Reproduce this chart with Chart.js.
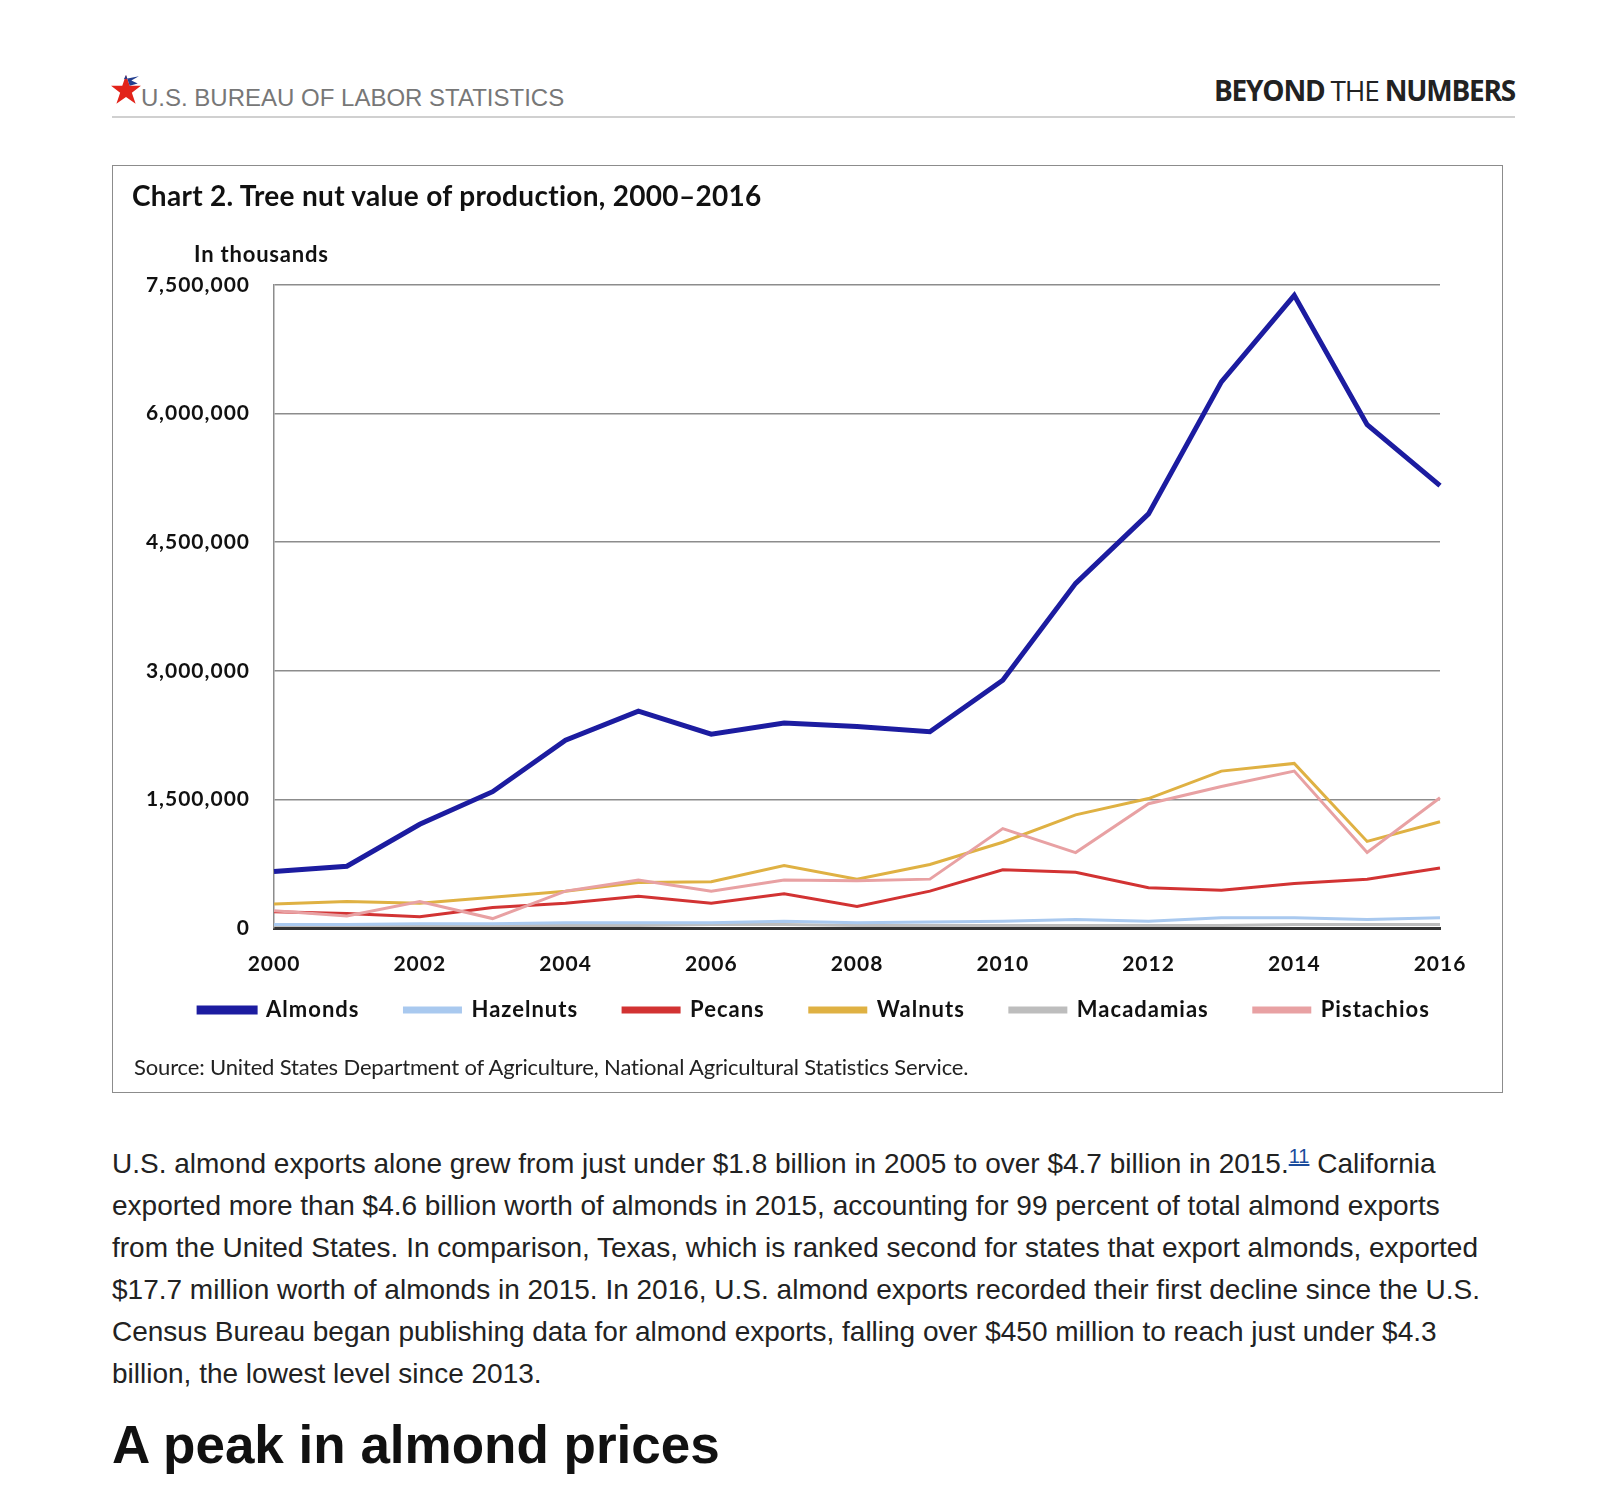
<!DOCTYPE html>
<html>
<head>
<meta charset="utf-8">
<script src="https://cdn.jsdelivr.net/npm/chart.js@4"></script>
<style>
  body { margin: 0; background: #fff; width: 1598px; height: 1493px; position: relative; overflow: hidden; }
  .bls { position: absolute; left: 141px; top: 84px; font: 24px "Liberation Sans", Arial, sans-serif; color: #777; }
  .star { position: absolute; left: 110px; top: 74px; }
  .btn { position: absolute; right: 83px; top: 71px; font: 700 28px "Open Sans", sans-serif; color: #222; letter-spacing: -1.2px; }
  .btn span { font-weight: 400; }
  .rule { position: absolute; left: 112px; top: 116px; width: 1403px; height: 2px; background: #d0d0d0; }
  .box { position: absolute; left: 112px; top: 165px; width: 1389px; height: 926px; border: 1.5px solid #8c8c8c; }
  canvas { position: absolute; left: 113px; top: 166px; }
  .title { position: absolute; left: 132px; top: 178px; font: 700 28px Lato, sans-serif; color: #111; letter-spacing: 0.3px; }
  .unit { position: absolute; left: 194px; top: 240px; font: 700 22px Lato, sans-serif; color: #111; letter-spacing: 0.8px; }
  .src { position: absolute; left: 134px; top: 1053px; font: 22px Lato, sans-serif; color: #222; letter-spacing: -0.15px; }
  .body { position: absolute; left: 112px; top: 1143px; width: 1380px; font: 28px "Liberation Sans", Arial, sans-serif; line-height: 42px; color: #222; }
  .body sup { font-size: 20px; color: #1a4b9c; text-decoration: underline; line-height: 0; }
  h2 { position: absolute; left: 112px; top: 1414px; margin: 0; font: 700 53px "Liberation Sans", Arial, sans-serif; color: #111; }
</style>
</head>
<body>
<svg class="star" width="32" height="32" viewBox="0 0 30 30">
  <polygon points="15,1 18.5,11 29,11 20.5,17.5 24,28 15,21.5 6,28 9.5,17.5 1,11 11.5,11" fill="#e2231a"/>
  <polygon points="15,1 18.5,11 26,9 20,6 27,2 13,5" fill="#233f8f"/>
</svg>
<div class="bls">U.S. BUREAU OF LABOR STATISTICS</div>
<div class="btn">BEYOND <span>THE</span> NUMBERS</div>
<div class="rule"></div>
<div class="box"></div>
<canvas id="chart" width="1389" height="926"></canvas>
<div class="title">Chart 2. Tree nut value of production, 2000–2016</div>
<div class="unit">In thousands</div>
<div class="src">Source: United States Department of Agriculture, National Agricultural Statistics Service.</div>
<div class="body">U.S. almond exports alone grew from just under $1.8 billion in 2005 to over $4.7 billion in 2015.<sup>11</sup> California exported more than $4.6 billion worth of almonds in 2015, accounting for 99 percent of total almond exports from the United States. In comparison, Texas, which is ranked second for states that export almonds, exported $17.7 million worth of almonds in 2015. In 2016, U.S. almond exports recorded their first decline since the U.S. Census Bureau began publishing data for almond exports, falling over $450 million to reach just under $4.3 billion, the lowest level since 2013.</div>
<h2>A peak in almond prices</h2>

<script>
// values in thousands of dollars
const years = ['2000', '2001', '2002', '2003', '2004', '2005', '2006', '2007', '2008',
               '2009', '2010', '2011', '2012', '2013', '2014', '2015', '2016'];
const almonds = [660000, 720000, 1210000, 1590000, 2190000, 2530000, 2260000, 2390000, 2350000,
                 2290000, 2890000, 4020000, 4830000, 6370000, 7380000, 5870000, 5160000];
const hazelnuts = [40000, 40000, 50000, 50000, 60000, 60000, 60000, 80000, 60000,
                   70000, 80000, 100000, 80000, 120000, 120000, 100000, 120000];
const pecans = [190000, 170000, 130000, 240000, 290000, 370000, 290000, 400000, 250000,
                430000, 680000, 650000, 470000, 440000, 520000, 570000, 700000];
const walnuts = [280000, 310000, 290000, 360000, 430000, 530000, 540000, 730000, 570000,
                 740000, 1000000, 1320000, 1510000, 1830000, 1920000, 1010000, 1240000];
const macadamias = [30000, 30000, 30000, 30000, 30000, 30000, 40000, 40000, 30000,
                    30000, 30000, 30000, 30000, 30000, 40000, 40000, 40000];
const pistachios = [200000, 140000, 310000, 110000, 430000, 560000, 430000, 560000, 550000,
                    570000, 1160000, 880000, 1450000, 1650000, 1830000, 880000, 1520000];
const yTicks = [0, 1500000, 3000000, 4500000, 6000000, 7500000];

function series(label, data, color, width, order) {
    return {
        label: label,
        data: data,
        borderColor: color,
        backgroundColor: color,
        borderWidth: width,
        pointRadius: 0,
        tension: 0,
        order: order
    };
}

// slightly spaced-out lettering like the original, and legend nudged into place
const chartTweaks = {
    id: 'chartTweaks',
    beforeUpdate(chart) { chart.ctx.letterSpacing = '1px'; },
    beforeDraw(chart) { chart.ctx.letterSpacing = '1px'; },
    afterLayout(chart) {
        const lg = chart.legend;
        lg.top -= 30; lg.bottom -= 30;
        lg.left += 38; lg.right += 38;
    }
};

const ctx = document.getElementById('chart').getContext('2d');

new Chart(ctx, {
    type: 'line',
    data: {
        labels: years,
        datasets: [
            series('Almonds', almonds, '#1c1ca0', 5, 0),
            series('Hazelnuts', hazelnuts, '#a9c9ef', 3, 5),
            series('Pecans', pecans, '#d23333', 3, 2),
            series('Walnuts', walnuts, '#dfb143', 3, 3),
            series('Macadamias', macadamias, '#bdbdbd', 3, 6),
            series('Pistachios', pistachios, '#e8a1a3', 3, 1)
        ]
    },
    plugins: [chartTweaks],
    options: {
        responsive: false,
        animation: false,
        layout: {
            padding: { top: 119, right: 62, left: 0, bottom: 31 }
        },
        plugins: {
            legend: {
                position: 'bottom',
                labels: {
                    boxWidth: 56,
                    boxHeight: 4,
                    padding: 45,
                    color: '#111',
                    font: { family: 'Lato', size: 22, weight: 'bold' },
                    sort: (a, b) => a.datasetIndex - b.datasetIndex
                }
            },
            tooltip: { enabled: false }
        },
        scales: {
            x: {
                offset: false,
                grid: { display: false, drawTicks: false },
                border: { color: '#333', width: 3 },
                afterFit: function (scale) { scale.height = 56; },
                ticks: {
                    autoSkip: false,
                    maxRotation: 0,
                    padding: 24,
                    color: '#111',
                    font: { family: 'Lato', size: 21, weight: 'bold' },
                    callback: function (value, index) {
                        return index % 2 === 0 ? years[index] : '';
                    }
                }
            },
            y: {
                min: 0,
                max: 7500000,
                afterFit: function (scale) { scale.width = 161; },
                afterBuildTicks: function (scale) {
                    scale.ticks = yTicks.map(v => ({ value: v }));
                },
                grid: { color: '#8c8c8c', lineWidth: 1.5, drawTicks: false },
                border: { color: '#8c8c8c', width: 1.5 },
                ticks: {
                    padding: 24,
                    color: '#111',
                    font: { family: 'Lato', size: 21, weight: 'bold' },
                    callback: function (value) {
                        return value.toLocaleString('en-US');
                    }
                }
            }
        }
    }
});
</script>
</body>
</html>
